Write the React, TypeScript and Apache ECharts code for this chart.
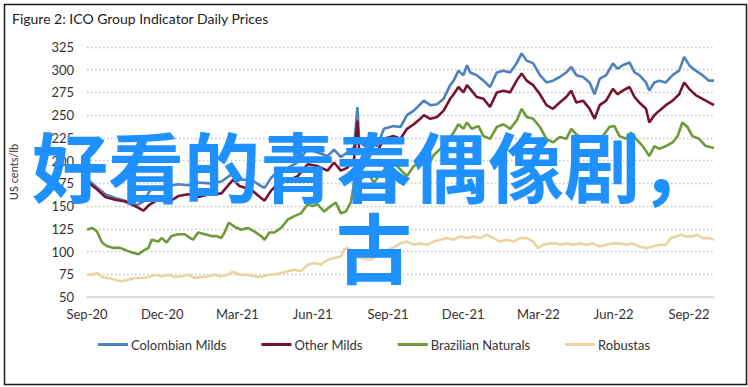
import React, { useEffect, useRef } from "react";
import * as echarts from "echarts";

// x = months since Sep-2020
const TICK_LABELS = ["Sep-20", "Dec-20", "Mar-21", "Jun-21", "Sep-21", "Dec-21", "Mar-22", "Jun-22", "Sep-22"];
const SERIES_NAMES = ["Colombian Milds", "Other Milds", "Brazilian Naturals", "Robustas"];

const colombianMilds = [
  [0, 180], [0.33, 172], [0.73, 163], [1.12, 159], [1.52, 156], [1.98, 151], [2.25, 155], [2.51, 167], [2.84, 170],
  [3.24, 172], [3.64, 174], [4.03, 173], [4.43, 176], [4.89, 175], [5.36, 177], [5.82, 186], [6.08, 179], [6.55, 179],
  [6.94, 172], [7.08, 170], [7.34, 181], [7.6, 188], [8.0, 192], [8.4, 198], [8.8, 213], [9.19, 209], [9.59, 205],
  [9.85, 212], [10.12, 204], [10.38, 209], [10.65, 215], [10.78, 259], [10.85, 224], [11.04, 216], [11.31, 220],
  [11.57, 216], [11.84, 235], [12.23, 238], [12.5, 237], [12.76, 250], [13.03, 255], [13.29, 262], [13.43, 266],
  [13.69, 261], [13.96, 262], [14.22, 268], [14.48, 283], [14.62, 288], [14.81, 299], [15.01, 294], [15.15, 305],
  [15.28, 297], [15.54, 294], [15.81, 288], [16.07, 281], [16.34, 297], [16.6, 299], [16.87, 297], [17.13, 307],
  [17.33, 318], [17.53, 310], [17.79, 307], [18.06, 294], [18.32, 286], [18.58, 288], [18.85, 292], [19.11, 297],
  [19.31, 303], [19.51, 294], [19.78, 292], [20.04, 286], [20.24, 273], [20.44, 290], [20.7, 294], [20.97, 307],
  [21.16, 301], [21.36, 305], [21.63, 308], [21.83, 297], [22.02, 294], [22.29, 286], [22.42, 277], [22.62, 286],
  [22.82, 288], [23.08, 286], [23.35, 294], [23.61, 299], [23.81, 314], [24.01, 305], [24.27, 299], [24.54, 294],
  [24.8, 288], [25, 288],
];

const otherMilds = [
  [0, 177], [0.33, 170], [0.73, 160], [1.12, 157], [1.52, 155], [1.92, 150], [2.25, 145], [2.51, 152], [2.84, 157],
  [3.24, 154], [3.64, 161], [4.03, 163], [4.43, 160], [4.89, 163], [5.36, 164], [5.82, 179], [6.08, 172], [6.55, 168],
  [6.94, 159], [7.08, 156], [7.34, 167], [7.6, 174], [8.0, 178], [8.4, 183], [8.8, 196], [9.19, 194], [9.59, 189],
  [9.85, 198], [10.12, 189], [10.38, 192], [10.65, 202], [10.78, 244], [10.85, 213], [11.04, 207], [11.31, 209],
  [11.57, 210], [11.84, 224], [12.23, 227], [12.5, 224], [12.76, 235], [13.03, 240], [13.29, 246], [13.43, 250],
  [13.69, 246], [13.96, 248], [14.22, 255], [14.48, 268], [14.62, 273], [14.81, 281], [15.01, 275], [15.15, 283],
  [15.28, 279], [15.54, 270], [15.81, 268], [16.07, 259], [16.34, 275], [16.6, 277], [16.87, 275], [17.13, 288],
  [17.33, 296], [17.53, 288], [17.79, 283], [18.06, 273], [18.32, 261], [18.58, 257], [18.85, 264], [19.11, 270],
  [19.31, 277], [19.51, 264], [19.78, 266], [20.04, 257], [20.24, 246], [20.44, 261], [20.7, 266], [20.97, 279],
  [21.16, 273], [21.36, 277], [21.63, 281], [21.83, 270], [22.02, 264], [22.29, 257], [22.42, 242], [22.62, 250],
  [22.82, 255], [23.08, 261], [23.35, 266], [23.61, 273], [23.81, 286], [24.01, 279], [24.27, 272], [24.54, 268],
  [24.8, 264], [25, 261],
];

const brazilianNaturals = [
  [0, 124], [0.2, 126], [0.4, 122], [0.6, 110], [0.79, 106], [1.06, 104], [1.32, 104], [1.59, 101], [1.79, 99],
  [2.05, 97], [2.25, 101], [2.45, 104], [2.58, 113], [2.84, 111], [2.98, 115], [3.17, 110], [3.37, 117], [3.64, 119],
  [3.9, 119], [4.1, 115], [4.23, 113], [4.43, 121], [4.7, 119], [4.96, 117], [5.16, 117], [5.36, 115], [5.5, 122],
  [5.65, 132], [5.9, 127], [6.15, 124], [6.41, 126], [6.68, 122], [6.94, 117], [7.08, 113], [7.27, 121], [7.47, 121],
  [7.74, 126], [8.0, 135], [8.27, 139], [8.53, 142], [8.8, 152], [8.99, 150], [9.19, 152], [9.46, 144], [9.72, 150],
  [9.92, 154], [10.12, 142], [10.32, 144], [10.52, 154], [10.65, 176], [10.78, 187], [10.98, 180], [11.18, 187],
  [11.44, 176], [11.71, 185], [11.97, 194], [12.23, 198], [12.5, 190], [12.76, 183], [13.03, 194], [13.29, 198],
  [13.56, 192], [13.82, 206], [14.09, 213], [14.35, 220], [14.62, 231], [14.81, 240], [15.01, 235], [15.15, 242],
  [15.34, 235], [15.61, 238], [15.81, 227], [16.07, 224], [16.34, 237], [16.6, 240], [16.87, 235], [17.13, 244],
  [17.33, 257], [17.53, 248], [17.79, 246], [18.06, 237], [18.32, 224], [18.58, 220], [18.85, 226], [19.11, 224],
  [19.31, 235], [19.51, 229], [19.78, 224], [20.04, 222], [20.3, 224], [20.57, 227], [20.83, 237], [21.03, 238],
  [21.23, 227], [21.5, 224], [21.69, 231], [21.89, 224], [22.16, 216], [22.42, 205], [22.62, 216], [22.82, 213],
  [23.08, 216], [23.35, 220], [23.55, 227], [23.74, 242], [23.94, 237], [24.14, 227], [24.41, 224], [24.67, 216],
  [25, 214],
];

const robustas = [
  [0, 74.5], [0.2, 74.5], [0.4, 76.4], [0.6, 72], [0.86, 70.9], [1.12, 69], [1.39, 67.2], [1.65, 69], [1.92, 70.9],
  [2.18, 70.9], [2.45, 72], [2.71, 74.5], [2.98, 72.7], [3.24, 74.5], [3.5, 72], [3.77, 72.7], [4.03, 74.5], [4.3, 70.9],
  [4.56, 72], [4.83, 72.7], [5.09, 74.5], [5.36, 72.7], [5.62, 74.5], [5.82, 78], [6.08, 74.5], [6.41, 74.5],
  [6.68, 72.7], [6.94, 72], [7.21, 74.5], [7.47, 74.5], [7.74, 76.4], [8.0, 78.2], [8.27, 80], [8.53, 78.2],
  [8.8, 85.5], [9.06, 87.3], [9.32, 85.5], [9.59, 91], [9.85, 92.8], [10.12, 94.6], [10.25, 102], [10.38, 104],
  [10.6, 96], [10.9, 93], [11.3, 91], [11.6, 96], [11.9, 101], [12.2, 104], [12.5, 109], [12.76, 111], [13.03, 107.5],
  [13.29, 109], [13.56, 107.5], [13.82, 111], [14.09, 113], [14.35, 114.8], [14.62, 113], [14.88, 116.6],
  [15.15, 114.8], [15.41, 116.6], [15.67, 114.8], [15.94, 118.5], [16.2, 114.8], [16.47, 111], [16.73, 113],
  [17.0, 111], [17.26, 114.8], [17.53, 114.8], [17.79, 111], [17.99, 103.7], [18.19, 107.5], [18.45, 109],
  [18.72, 109], [18.85, 107.5], [19.11, 109], [19.38, 107.5], [19.64, 109], [19.91, 107.5], [20.17, 109],
  [20.44, 105.6], [20.7, 107.5], [20.97, 109], [21.23, 109], [21.5, 107.5], [21.76, 109], [22.02, 105.6],
  [22.29, 103.7], [22.55, 105.6], [22.82, 107.5], [23.08, 107.5], [23.28, 114.8], [23.48, 116.6], [23.68, 118.5],
  [23.88, 116.6], [24.14, 116.6], [24.34, 118.5], [24.54, 114.8], [24.8, 114.8], [25, 113],
];

const COLORS = ["#4f81bd", "#76142f", "#6f9a3b", "#ecd4a2"];
const FONT = "Lato, 'Noto Sans', sans-serif";

export default function App() {
  const ref = useRef<HTMLDivElement>(null);

  useEffect(() => {
    if (!ref.current) return;
    const chart = echarts.init(ref.current, undefined, { renderer: "svg" });
    const datasets = [colombianMilds, otherMilds, brazilianNaturals, robustas];
    chart.setOption({
      animation: false,
      backgroundColor: "#ffffff",
      title: {
        text: "Figure 2: ICO Group Indicator Daily Prices",
        left: 7,
        top: 6,
        textStyle: { fontSize: 14, fontWeight: "normal", color: "#222", fontFamily: FONT },
      },
      grid: { left: 85, right: 34, top: 47, bottom: 90 },
      legend: {
        bottom: 31,
        left: "center",
        icon: "rect",
        itemWidth: 30,
        itemHeight: 3,
        itemGap: 35,
        textStyle: { fontSize: 13, color: "#333", fontFamily: FONT, padding: [0, 0, 0, -2] },
        data: SERIES_NAMES,
      },
      xAxis: {
        type: "value",
        min: 0,
        max: 25,
        interval: 3,
        axisLine: { show: true, lineStyle: { color: "#d9d9d9", width: 1.5 } },
        axisTick: { show: false },
        splitLine: { show: false },
        axisLabel: {
          color: "#333",
          fontSize: 13,
          fontFamily: FONT,
          margin: 10,
          formatter: (v: number) => (Math.abs(v % 3) < 1e-9 && v / 3 < TICK_LABELS.length ? TICK_LABELS[v / 3] : ""),
        },
      },
      yAxis: {
        type: "value",
        min: 50,
        max: 325,
        interval: 25,
        name: "US cents/lb",
        nameLocation: "middle",
        nameGap: 68,
        nameTextStyle: { fontSize: 11, color: "#333", fontFamily: FONT },
        axisLine: { show: false },
        axisTick: { show: false },
        axisLabel: { color: "#333", fontSize: 13, fontFamily: FONT, margin: 13 },
        splitLine: { show: true, lineStyle: { color: "#c4c4c4", type: [1.5, 2.5], width: 1.3 } },
      },
      series: SERIES_NAMES.map((name, i) => ({
        name,
        type: "line",
        data: datasets[i],
        showSymbol: false,
        symbol: "none",
        lineStyle: { width: 2.6, color: COLORS[i] },
        itemStyle: { color: COLORS[i] },
        z: 2 + i,
      })),
      graphic: [
        {
          type: "rect",
          left: 2,
          top: 2,
          shape: { x: 0, y: 0, width: 742, height: 380 },
          style: { fill: "none", stroke: "#1a1a1a", lineWidth: 1.5 },
          silent: true,
          z: 100,
        },
        {
          type: "text",
          x: 374,
          y: 164,
          style: {
            text: "好看的青春偶像剧，",
            fill: "#1e90ff",
            fontSize: 76,
            fontWeight: "bold",
            fontFamily: "'Noto Sans CJK SC', sans-serif",
            textAlign: "center",
            textVerticalAlign: "middle",
          },
          z: 200,
        },
        {
          type: "text",
          x: 374,
          y: 245,
          style: {
            text: "古",
            fill: "#1e90ff",
            fontSize: 76,
            fontWeight: "bold",
            fontFamily: "'Noto Sans CJK SC', sans-serif",
            textAlign: "center",
            textVerticalAlign: "middle",
          },
          z: 200,
        },
      ],
    });
    return () => chart.dispose();
  }, []);

  return (
    <div
      ref={ref}
      style={{ position: "absolute", left: 0, top: 0, width: 748, height: 387, background: "#fff" }}
    />
  );
}
